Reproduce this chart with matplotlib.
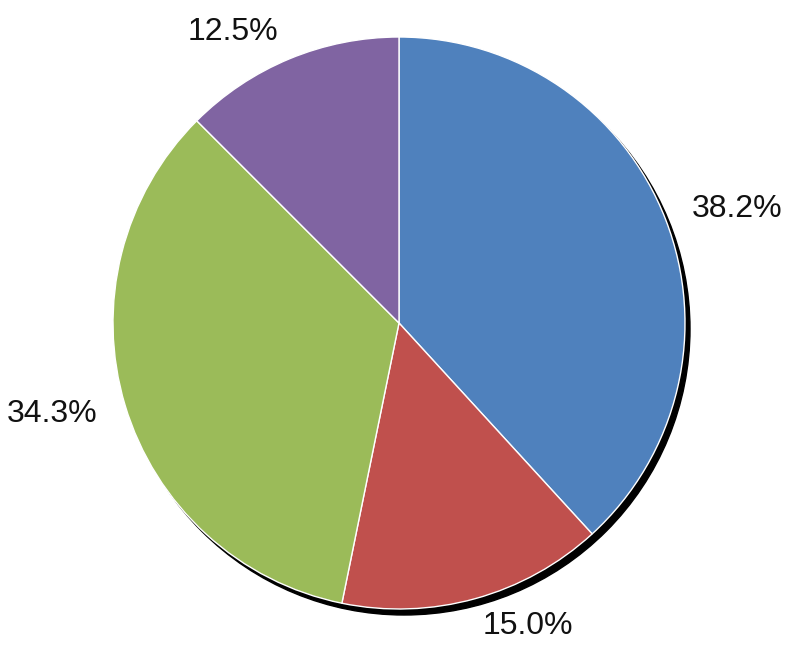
import matplotlib.pyplot as plt
from matplotlib.patches import Circle

# slice shares, clockwise from 12 o'clock
shares = [38.2, 15.0, 34.3, 12.5]
labels = ["38.2%", "15.0%", "34.3%", "12.5%"]
colors = ["#4F81BD", "#C0504D", "#9BBB59", "#8064A2"]

W, H = 792, 657
cx, cy, r = 399, 323, 286

fig = plt.figure(figsize=(W / 100, H / 100), dpi=100)
ax = fig.add_axes([0, 0, 1, 1])

# black drop shadow behind the pie
ax.add_patch(Circle((5 / r, -6 / r), 1.0, color="black", zorder=0))

wedges, texts = ax.pie(
    shares,
    labels=labels,
    colors=colors,
    startangle=90,
    counterclock=False,
    labeldistance=1.1,
    wedgeprops=dict(edgecolor="white", linewidth=1.0),
    textprops=dict(fontsize=23, family="Liberation Sans", color="#111111"),
)
for w in wedges:
    w.set_zorder(1)

ax.set_xlim(-cx / r, (W - cx) / r)
ax.set_ylim(-(H - cy) / r, cy / r)
ax.set_aspect("equal")
ax.axis("off")

fig.savefig("out.png", dpi=100)
